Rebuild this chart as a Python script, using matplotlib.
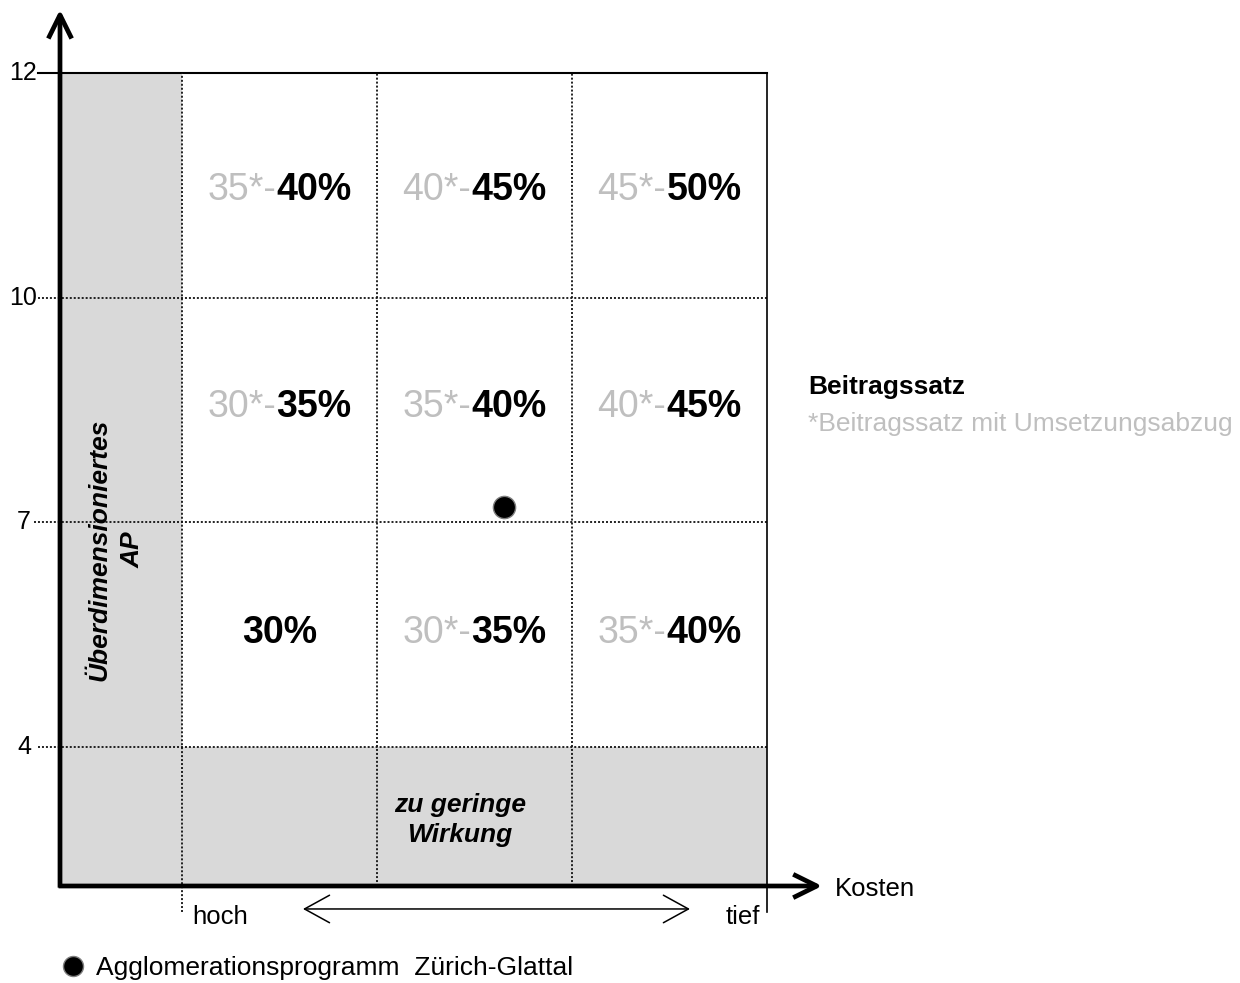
import matplotlib
matplotlib.use("Agg")
import matplotlib.pyplot as plt
import numpy as np

plt.rcParams['font.family'] = ['Liberation Sans', 'DejaVu Sans']

# ---------------- data ----------------
y_tick_values = [4, 7, 10, 12]
cost_labels = ["hoch", "tief"]
x_axis_label = "Kosten"
# rating grid: rows from bottom (4-7) to top (10-12), columns from "hoch" to "tief"
grey_parts = [["", "30*-", "35*-"],
              ["30*-", "35*-", "40*-"],
              ["35*-", "40*-", "45*-"]]
black_parts = [["30%", "35%", "40%"],
               ["35%", "40%", "45%"],
               ["40%", "45%", "50%"]]
point_cost = 1.65        # position along the cost axis (in columns from "hoch")
point_effect = 7.2       # value on the effect axis
point_label = "Agglomerationsprogramm  Zürich-Glattal"
side_title = "Beitragssatz"
side_note = "*Beitragssatz mit Umsetzungsabzug"
left_band_label = "Überdimensioniertes\nAP"
bottom_band_label = "zu geringe\nWirkung"

# ---------------- layout ----------------
W, H = 1240, 983
fig = plt.figure(figsize=(W / 100, H / 100), dpi=100)
ax = fig.add_axes([60 / W, (H - 886) / H, 707 / W, 813 / H])

grey_w = 0.626          # width of grey "oversized" column (in column units)
low_h = 0.618           # height of grey "too low" band (in row units)
ncol = 3
xmax = grey_w + ncol
band_edges = [0, low_h, low_h + 1, low_h + 2, low_h + 3]
ymax = band_edges[-1]
ax.set_xlim(0, xmax)
ax.set_ylim(0, ymax)
ax.axis('off')

GREY_FILL = '#d9d9d9'
GREY_TXT = '#bfbfbf'

def y_of(v):
    return float(np.interp(v, y_tick_values, band_edges[1:]))

# grey bands
ax.fill_between([0, grey_w], 0, ymax, color=GREY_FILL, lw=0, zorder=0)
ax.fill_between([grey_w, xmax], 0, low_h, color=GREY_FILL, lw=0, zorder=0)

dot = (0, (1.1, 1.1))
ext = -22 / 195
# horizontal grid lines + ticks
for v in y_tick_values:
    y = y_of(v)
    if v == max(y_tick_values):
        ax.plot([ext, xmax], [y, y], color='black', lw=1.5, clip_on=False, zorder=2)
    else:
        ax.plot([ext - 0.02 if v == 7 else ext, xmax], [y, y], color='#111111', lw=1.3,
                ls=dot, clip_on=False, zorder=2)
    ax.text(-23 / 195 if v >= 10 else -29 / 195, y, str(v), ha='right', va='center',
            fontsize=18, clip_on=False)

# vertical grid lines
below = -26 / 225
ax.plot([grey_w, grey_w], [below, ymax], color='#111111', lw=1.3, ls=dot, clip_on=False, zorder=2)
for i in range(1, ncol):
    x = grey_w + i
    ax.plot([x, x], [0, ymax], color='#111111', lw=1.3, ls=dot, zorder=2)
ax.plot([xmax, xmax], [below, ymax], color='black', lw=1.2, clip_on=False, zorder=2)

# axis arrows
arrow_kw = dict(arrowstyle='->,head_length=0.85,head_width=0.42', lw=3.4,
                color='black', shrinkA=0, shrinkB=0, mutation_scale=20, capstyle='butt')
ax.annotate('', xy=(0, 1.078), xytext=(0, -0.002), xycoords='axes fraction',
            arrowprops=arrow_kw, annotation_clip=False, zorder=5)
ax.annotate('', xy=(1.078, 0), xytext=(-0.002, 0), xycoords='axes fraction',
            arrowprops=arrow_kw, annotation_clip=False, zorder=5)

# cost arrow and labels
ya = -23 / 225
ax.annotate('', xy=(1.246, ya), xytext=(3.231, ya), xycoords='data',
            arrowprops=dict(arrowstyle='<->,head_length=1.0,head_width=0.55', lw=1.1,
                            color='black', shrinkA=0, shrinkB=0, mutation_scale=18),
            annotation_clip=False)
ax.text(0.677, -31 / 225, cost_labels[0], ha='left', va='center', fontsize=18.5, clip_on=False)
ax.text(3.59, -31 / 225, cost_labels[1], ha='right', va='center', fontsize=18.5, clip_on=False)
ax.text(3.974, -3 / 225, x_axis_label, ha='left', va='center', fontsize=18.5, clip_on=False)

# band labels
ax.text(0.287, 1.498, left_band_label, rotation=90, ha='center', va='center',
        fontsize=19, fontweight='bold', fontstyle='italic', linespacing=1.45)
ax.text(2.051, 0.293, bottom_band_label, ha='center', va='center',
        fontsize=19, fontweight='bold', fontstyle='italic', linespacing=1.3)

# cell labels
fig.canvas.draw()
renderer = fig.canvas.get_renderer()
px_per_x = ax.get_window_extent(renderer).width / xmax
row_base = [1.080, 2.089, 3.053]
for r in range(3):
    for c in range(ncol):
        cx = grey_w + c + 0.5
        cy = row_base[r]
        g = grey_parts[r][c]
        b = black_parts[r][c]
        tg = ax.text(cx, cy, g, ha='right', va='baseline', fontsize=27, color=GREY_TXT)
        tb = ax.text(cx, cy, b, ha='left', va='baseline', fontsize=27, color='black',
                     fontweight='bold')
        wg = tg.get_window_extent(renderer).width if g else 0.0
        wb = tb.get_window_extent(renderer).width
        shift = (wg - wb) / 2 / px_per_x
        tg.set_x(cx + shift)
        tb.set_x(cx + shift)

# side legend texts
ax.text(3.836, 2.222, side_title, ha='left', va='center', fontsize=19, fontweight='bold',
        clip_on=False)
ax.text(3.836, 2.058, side_note, ha='left', va='center', fontsize=19, color=GREY_TXT,
        clip_on=False)

# program point
ax.plot([grey_w + point_cost], [y_of(point_effect)], ls='none', marker='o', ms=16,
        mfc='black', mec='#7f7f7f', mew=1.0, zorder=6, label=point_label)

leg = fig.legend(loc='center left', bbox_to_anchor=(60 / W, (H - 968) / H), frameon=False,
                 fontsize=19, handlelength=0.95, handletextpad=0.42, borderpad=0,
                 borderaxespad=0, markerscale=0.9)

fig.savefig("out.png", dpi=100)
